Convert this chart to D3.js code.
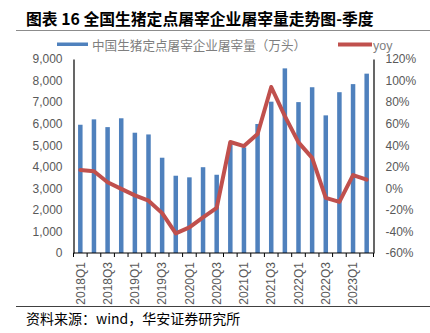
<!DOCTYPE html>
<html><head><meta charset="utf-8">
<script src="https://cdn.jsdelivr.net/npm/d3@7"></script>
<style>body{margin:0;background:#fff}svg{display:block}</style>
</head><body>
<svg id="c" width="430" height="333"></svg>
<script>
const categories = ["2018Q1","2018Q2","2018Q3","2018Q4","2019Q1","2019Q2","2019Q3","2019Q4","2020Q1","2020Q2","2020Q3","2020Q4","2021Q1","2021Q2","2021Q3","2021Q4","2022Q1","2022Q2","2022Q3","2022Q4","2023Q1","2023Q2"];
const slaughter = [5950,6200,5840,6250,5580,5500,4420,3585,3510,3980,3630,5120,4900,5985,7020,8565,7000,7690,6385,7460,7835,8320];
const yoy = [17,15.8,5.6,-0.5,-6.5,-11.5,-23,-41.8,-36.3,-27,-18.2,43,39.2,50.4,94,67,42.6,28.2,-8.8,-12.6,12.3,8];
const leftTicks = [0,1000,2000,3000,4000,5000,6000,7000,8000,9000];
const rightTicks = [-60,-40,-20,0,20,40,60,80,100,120];
const xLabelShown = ["2018Q1","2018Q3","2019Q1","2019Q3","2020Q1","2020Q3","2021Q1","2021Q3","2022Q1","2022Q3","2023Q1"];
const title = "图表 16 全国生猪定点屠宰企业屠宰量走势图-季度";
const barName = "中国生猪定点屠宰企业屠宰量（万头）";
const lineName = "yoy";
const source = "资料来源：wind，华安证券研究所";

const svg = d3.select("#c");
const L = 73.5, R = 373.5, T = 59, B = 253;
const blue = "#4F81BD", red = "#C0504D", gray = "#595959";
const cjk = "'Noto Sans CJK SC', sans-serif";
const num = "'Liberation Sans', Arial, sans-serif";

const x = d3.scaleBand().domain(categories).range([L, R]).paddingInner(0.67).paddingOuter(0.335);
const yL = d3.scaleLinear().domain([0, 9000]).range([B, T]);
const yR = d3.scaleLinear().domain([-60, 120]).range([B, T]);

// title
svg.append("text").attr("x", 26).attr("y", 25).attr("font-family", cjk).attr("font-weight", "bold")
  .attr("font-size", 15.8).attr("fill", "#000").text(title);
svg.append("line").attr("x1", 16).attr("x2", 430).attr("y1", 30.5).attr("y2", 30.5).attr("stroke", "#8c8c8c").attr("stroke-width", 1);

// legend
svg.append("rect").attr("x", 57).attr("y", 42.5).attr("width", 31).attr("height", 3.5).attr("fill", blue);
svg.append("text").attr("x", 92).attr("y", 50).attr("font-family", cjk).attr("font-size", 12.6).attr("fill", "#7f7f7f").text(barName);
svg.append("line").attr("x1", 338).attr("x2", 372).attr("y1", 44.5).attr("y2", 44.5).attr("stroke", red).attr("stroke-width", 4);
svg.append("text").attr("x", 373).attr("y", 50).attr("font-family", num).attr("font-size", 12.5).attr("fill", "#7f7f7f").text(lineName);

// bars
svg.append("g").selectAll("rect").data(slaughter).join("rect")
  .attr("x", (d, i) => x(categories[i]))
  .attr("width", x.bandwidth())
  .attr("y", d => yL(d))
  .attr("height", d => B - yL(d))
  .attr("fill", blue);

// left axis
const axL = d3.axisLeft(yL).tickValues(leftTicks).tickFormat(d3.format(",")).tickSize(0).tickPadding(11);
const gL = svg.append("g").attr("transform", `translate(${L},0)`).call(axL);
gL.select(".domain").attr("stroke", "#000").attr("stroke-width", 1.2);
gL.selectAll("text").attr("font-family", num).attr("font-size", 12).attr("fill", gray);

// right axis
const axR = d3.axisRight(yR).tickValues(rightTicks).tickFormat(d => d + "%").tickSize(0).tickPadding(12);
const gR = svg.append("g").attr("transform", `translate(${R},0)`).call(axR);
gR.select(".domain").attr("stroke", "#000").attr("stroke-width", 1.2);
gR.selectAll("text").attr("font-family", num).attr("font-size", 12).attr("fill", gray);

// bottom axis
const axB = d3.axisBottom(x).tickValues(xLabelShown).tickSize(0).tickPadding(0);
const gB = svg.append("g").attr("transform", `translate(0,${B})`).call(axB);
gB.select(".domain").remove();
gB.append("line").attr("x1", L).attr("x2", R).attr("y1", 0).attr("y2", 0).attr("stroke", "#000").attr("stroke-width", 1.2);
gB.selectAll(".tick text").attr("font-family", num).attr("font-size", 12).attr("fill", gray)
  .attr("transform", "rotate(-90)").attr("text-anchor", "end").attr("dy", "0.35em").attr("x", -9).attr("y", 0);
const boundaries = categories.map(c => x(c) - x.step() * x.paddingInner() / 2).concat([R]);
gB.selectAll(".bt").data(boundaries).join("line").attr("class", "bt")
  .attr("x1", d => d).attr("x2", d => d).attr("y1", 0).attr("y2", 4).attr("stroke", "#000").attr("stroke-width", 1);

// yoy line
const line = d3.line().x((d, i) => x(categories[i]) + x.bandwidth() / 2).y(d => yR(d));
svg.append("path").datum(yoy).attr("d", line).attr("fill", "none").attr("stroke", red)
  .attr("stroke-width", 4).attr("stroke-linejoin", "round").attr("stroke-linecap", "round");

// footer
svg.append("line").attr("x1", 16).attr("x2", 430).attr("y1", 306.5).attr("y2", 306.5).attr("stroke", "#404040").attr("stroke-width", 1);
svg.append("text").attr("x", 26).attr("y", 324).attr("font-family", cjk).attr("font-size", 14).attr("fill", "#000").text(source);
</script>
</body></html>
